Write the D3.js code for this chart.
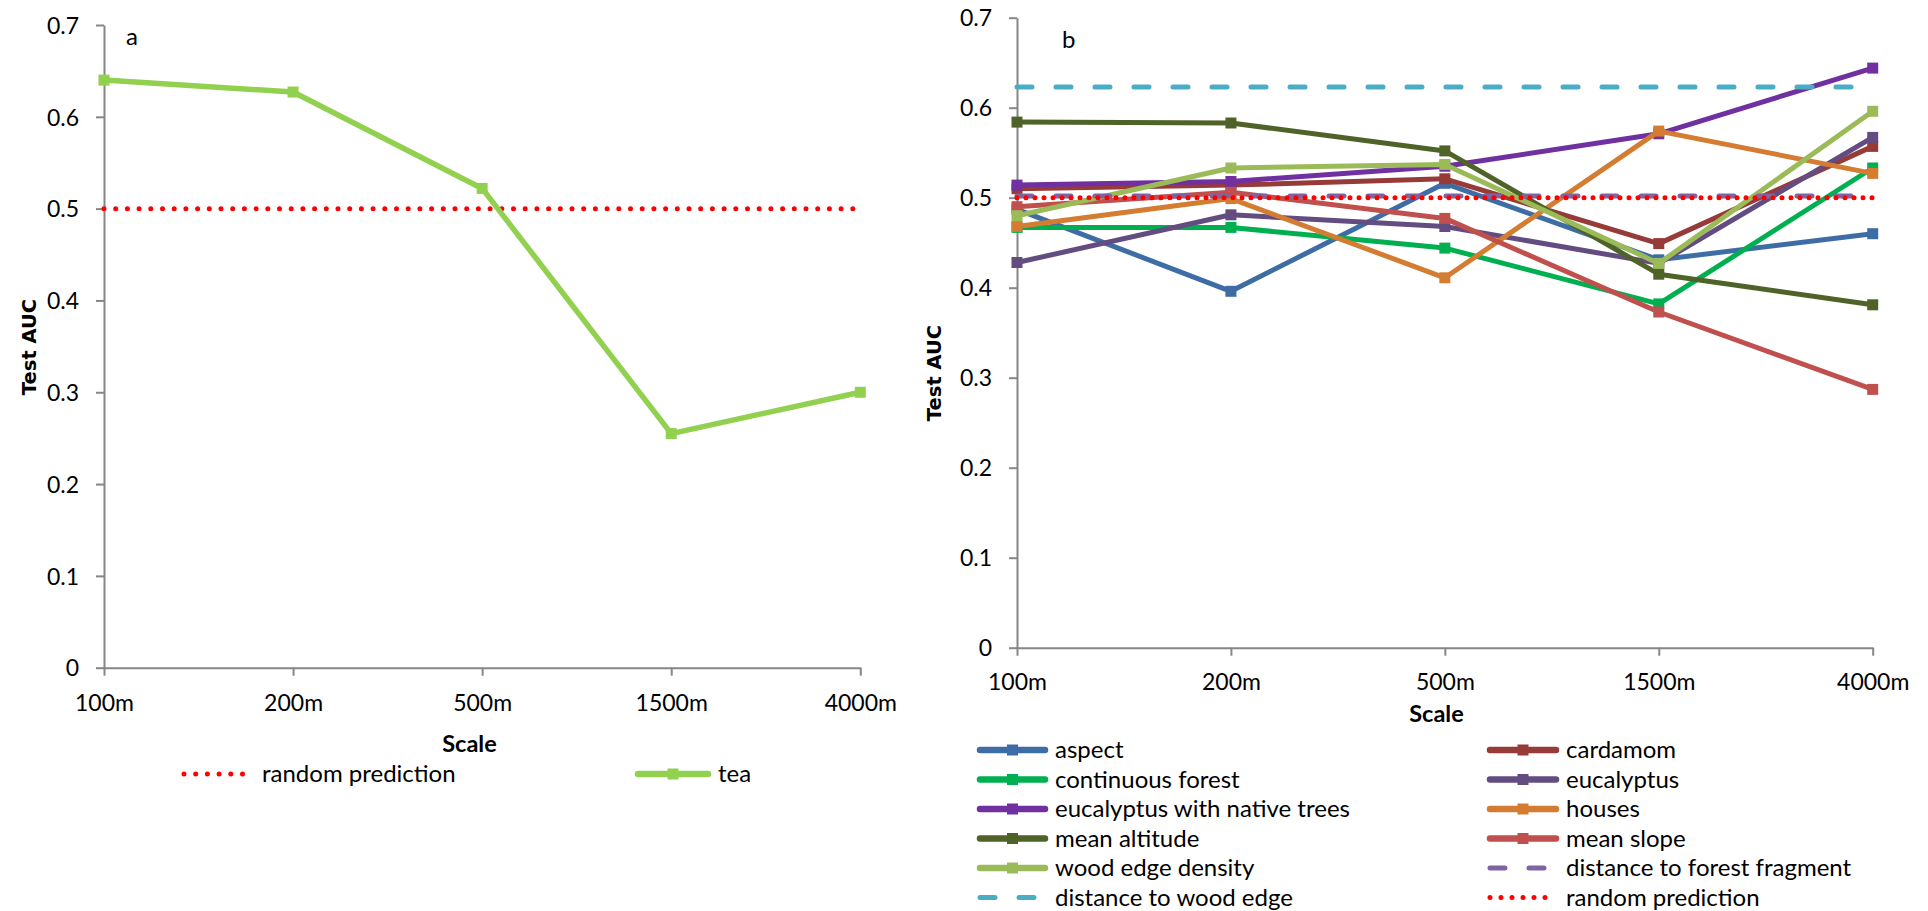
<!DOCTYPE html>
<html>
<head>
<meta charset="utf-8">
<script src="https://cdn.jsdelivr.net/npm/d3@7"></script>
<style>
  body { margin: 0; background: #fff; }
  text { font-family: Lato, 'Open Sans', sans-serif; fill: #000; }
</style>
</head>
<body>
<svg id="chart" width="1928" height="911"></svg>
<script>
// x categories
const scales = ['100m', '200m', '500m', '1500m', '4000m'];
const yTicks = [0, 0.1, 0.2, 0.3, 0.4, 0.5, 0.6, 0.7];

// panel a
const tea = [0.640, 0.627, 0.522, 0.255, 0.300];
const randomPrediction = [0.5, 0.5, 0.5, 0.5, 0.5];

// panel b
const aspect = [0.487, 0.396, 0.516, 0.431, 0.460];
const cardamom = [0.510, 0.514, 0.521, 0.449, 0.557];
const continuousForest = [0.467, 0.467, 0.444, 0.382, 0.533];
const eucalyptus = [0.428, 0.481, 0.468, 0.427, 0.567];
const eucalyptusNative = [0.514, 0.518, 0.535, 0.571, 0.644];
const houses = [0.468, 0.499, 0.411, 0.574, 0.527];
const meanAltitude = [0.584, 0.583, 0.552, 0.415, 0.381];
const meanSlope = [0.490, 0.506, 0.477, 0.373, 0.287];
const woodEdgeDensity = [0.480, 0.533, 0.537, 0.427, 0.596];
const distForestFragment = [0.502, 0.502, 0.502, 0.502, 0.502];
const distWoodEdge = [0.623, 0.623, 0.623, 0.623, 0.623];

const seriesA = [
  { name: 'random prediction', values: randomPrediction, color: '#FF0000', type: 'dot' },
  { name: 'tea', values: tea, color: '#92D050', type: 'line' }
];

const seriesB = [
  { name: 'aspect', values: aspect, color: '#3E6DA6', type: 'line' },
  { name: 'cardamom', values: cardamom, color: '#973B39', type: 'line' },
  { name: 'continuous forest', values: continuousForest, color: '#00B050', type: 'line' },
  { name: 'eucalyptus', values: eucalyptus, color: '#634C80', type: 'line' },
  { name: 'eucalyptus with native trees', values: eucalyptusNative, color: '#7030A0', type: 'line' },
  { name: 'houses', values: houses, color: '#D47C32', type: 'line' },
  { name: 'mean altitude', values: meanAltitude, color: '#4F6228', type: 'line' },
  { name: 'mean slope', values: meanSlope, color: '#C0504D', type: 'line' },
  { name: 'wood edge density', values: woodEdgeDensity, color: '#9BBB59', type: 'line' },
  { name: 'distance to forest fragment', values: distForestFragment, color: '#8064A2', type: 'dash' },
  { name: 'distance to wood edge', values: distWoodEdge, color: '#4BACC6', type: 'dash' },
  { name: 'random prediction', values: randomPrediction, color: '#FF0000', type: 'dot' }
];

const svg = d3.select('#chart');
const axisColor = '#868686';

function drawPanel(cfg) {
  const x = d3.scalePoint().domain(scales).range([cfg.left, cfg.right]);
  const y = d3.scaleLinear().domain([0, 0.7]).range([cfg.bottom, cfg.top]);
  const g = svg.append('g');

  // y axis
  const yAxis = g.append('g')
    .attr('transform', 'translate(' + cfg.left + ',0)')
    .call(d3.axisLeft(y).tickValues(yTicks).tickSize(8).tickSizeOuter(0).tickFormat(d => d === 0 ? '0' : d3.format('.1f')(d)));
  yAxis.select('.domain').attr('stroke', axisColor).attr('stroke-width', 2);
  yAxis.selectAll('.tick line').attr('stroke', axisColor).attr('stroke-width', 2);
  yAxis.selectAll('.tick text')
    .attr('x', -25).attr('dy', '0.36em')
    .style('font-size', '23px').style('font-family', 'Lato, sans-serif');

  // x axis
  const xAxis = g.append('g')
    .attr('transform', 'translate(0,' + cfg.bottom + ')')
    .call(d3.axisBottom(x).tickSize(8).tickSizeOuter(0));
  xAxis.select('.domain').attr('stroke', axisColor).attr('stroke-width', 2);
  xAxis.selectAll('.tick line').attr('stroke', axisColor).attr('stroke-width', 2);
  xAxis.selectAll('.tick text')
    .attr('y', cfg.tickBase).attr('dy', 0)
    .style('font-size', '23px').style('font-family', 'Lato, sans-serif');

  // titles
  g.append('text')
    .attr('transform', 'translate(' + cfg.yTitleX + ',' + cfg.yTitleY + ') rotate(-90)')
    .attr('text-anchor', 'middle')
    .style('font-family', "'DejaVu Sans', Verdana, sans-serif")
    .style('font-weight', 'bold').style('font-size', '19.5px')
    .text('Test AUC');
  g.append('text')
    .attr('x', cfg.xTitleX).attr('y', cfg.xTitleY)
    .attr('text-anchor', 'middle')
    .style('font-weight', 'bold').style('font-size', '23.5px')
    .text('Scale');
  g.append('text')
    .attr('x', cfg.labelX).attr('y', cfg.labelY)
    .style('font-size', '24px')
    .text(cfg.label);

  const line = d3.line().x((d, i) => x(scales[i])).y(d => y(d));

  cfg.series.forEach(s => {
    const p = g.append('path')
      .attr('d', line(s.values))
      .attr('fill', 'none')
      .attr('stroke', s.color);
    if (s.type === 'dot') {
      p.attr('stroke-width', 5).attr('stroke-linecap', 'round')
        .attr('stroke-dasharray', '0 ' + cfg.dotGap);
    } else if (s.type === 'dash') {
      p.attr('stroke-width', 5).attr('stroke-linecap', 'round')
        .attr('stroke-dasharray', '15 24');
    } else {
      p.attr('stroke-width', cfg.lineWidth).attr('stroke-linejoin', 'round');
      g.selectAll(null)
        .data(s.values)
        .enter()
        .append('rect')
        .attr('x', (d, i) => x(scales[i]) - cfg.marker / 2)
        .attr('y', d => y(d) - cfg.marker / 2)
        .attr('width', cfg.marker)
        .attr('height', cfg.marker)
        .attr('fill', s.color);
    }
  });
}

function legendItem(g, s, lx, ly, tx, dotGap) {
  const p = g.append('line')
    .attr('x1', lx[0]).attr('x2', lx[1])
    .attr('y1', ly).attr('y2', ly)
    .attr('stroke', s.color)
    .attr('stroke-linecap', 'round');
  if (s.type === 'dot') {
    p.attr('stroke-width', 5).attr('stroke-dasharray', '0 ' + dotGap);
  } else if (s.type === 'dash') {
    p.attr('stroke-width', 5).attr('stroke-dasharray', '15 24');
  } else {
    p.attr('stroke-width', 6.5);
    const m = (lx[0] + lx[1]) / 2;
    g.append('rect')
      .attr('x', m - 5.5).attr('y', ly - 5.5)
      .attr('width', 11).attr('height', 11)
      .attr('fill', s.color);
  }
  g.append('text')
    .attr('x', tx).attr('y', ly + 8)
    .style('font-size', '24px')
    .text(s.name);
}

drawPanel({
  left: 104, right: 860.3, top: 25, bottom: 667.7,
  tickBase: 43, series: seriesA, lineWidth: 5.5, marker: 11, dotGap: 11.7,
  yTitleX: 36, yTitleY: 347, xTitleX: 469.5, xTitleY: 751.7,
  label: 'a', labelX: 126, labelY: 45
});

drawPanel({
  left: 1017, right: 1872.7, top: 17.7, bottom: 647.7,
  tickBase: 42.3, series: seriesB, lineWidth: 5, marker: 11, dotGap: 9,
  yTitleX: 941, yTitleY: 373, xTitleX: 1436.5, xTitleY: 721.7,
  label: 'b', labelX: 1062, labelY: 48
});

// legend a
const legA = svg.append('g');
legendItem(legA, seriesA[0], [184, 248], 774, 262, 11.7);
legendItem(legA, seriesA[1], [638, 708], 774, 718, 11.7);

// legend b (two columns)
const legB = svg.append('g');
const rowsY = [750, 779.5, 809, 838.5, 868, 897.5];
seriesB.forEach((s, i) => {
  const col = i % 2;
  const row = Math.floor(i / 2);
  if (col === 0) {
    legendItem(legB, s, [980, 1045], rowsY[row], 1055, 11);
  } else {
    legendItem(legB, s, [1490, 1556], rowsY[row], 1566, 11);
  }
});
</script>
</body>
</html>
